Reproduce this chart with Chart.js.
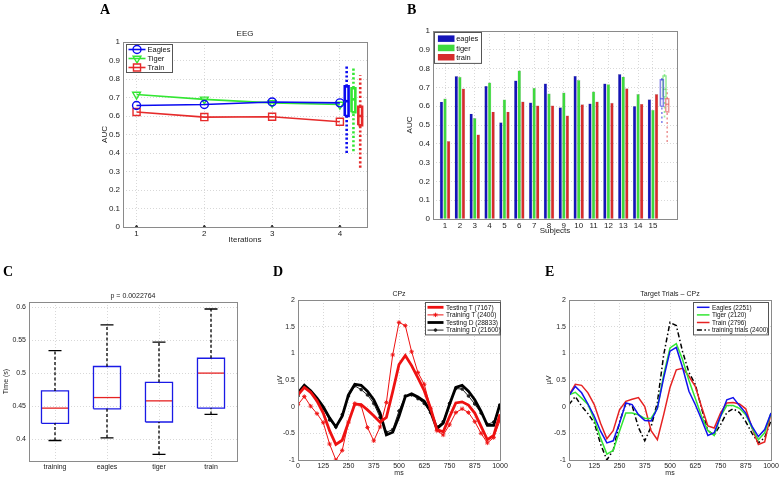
<!DOCTYPE html>
<html>
<head>
<meta charset="utf-8">
<script src="https://cdn.jsdelivr.net/npm/chart.js@4.4.1/dist/chart.umd.min.js"></script>
<style>
  html, body { margin: 0; padding: 0; background: #fff; }
  #page { position: relative; width: 781px; height: 478px; overflow: hidden; }
  #page canvas { position: absolute; left: 0; top: 0; }
  .tag { position: absolute; font-family: "Liberation Serif", "DejaVu Serif", serif; font-weight: bold; font-size: 14px; line-height: 14px; color: #000; }
</style>
</head>
<body>
<div id="page">
  <canvas id="chartA" width="781" height="478"></canvas>
  <canvas id="chartB" width="781" height="478"></canvas>
  <canvas id="chartC" width="781" height="478"></canvas>
  <canvas id="chartD" width="781" height="478"></canvas>
  <canvas id="chartE" width="781" height="478"></canvas>
  <div class="tag" style="left:100px;top:3px">A</div>
  <div class="tag" style="left:407px;top:3px">B</div>
  <div class="tag" style="left:3px;top:265px">C</div>
  <div class="tag" style="left:273px;top:265px">D</div>
  <div class="tag" style="left:545px;top:265px">E</div>
</div>
<script>
// ---- A: AUC per iteration ----
const iterations = [1, 2, 3, 4];
const eegEagles = [0.657, 0.662, 0.676, 0.671];
const eegTiger = [0.716, 0.690, 0.671, 0.662];
const eegTrain = [0.622, 0.594, 0.596, 0.569];
const eegBaseline = [0, 0, 0, 0];
// summary boxes next to A: [low, q1, median, q3, high]
const eegBoxX = [4.1, 4.2, 4.3];
const eegBoxEagles = [0.40, 0.60, 0.68, 0.76, 0.87];
const eegBoxTiger = [0.41, 0.62, 0.69, 0.75, 0.86];
const eegBoxTrain = [0.32, 0.55, 0.60, 0.65, 0.82];
const aucTicks = [0, 0.1, 0.2, 0.3, 0.4, 0.5, 0.6, 0.7, 0.8, 0.9, 1];

// ---- B: AUC per subject ----
const subjects = [1, 2, 3, 4, 5, 6, 7, 8, 9, 10, 11, 12, 13, 14, 15];
const aucEagles = [0.624, 0.760, 0.560, 0.708, 0.514, 0.737, 0.620, 0.721, 0.594, 0.761, 0.615, 0.721, 0.771, 0.601, 0.637];
const aucTiger = [0.641, 0.756, 0.537, 0.726, 0.636, 0.790, 0.698, 0.668, 0.673, 0.739, 0.678, 0.717, 0.757, 0.665, 0.580];
const aucTrain = [0.415, 0.694, 0.450, 0.571, 0.571, 0.625, 0.604, 0.604, 0.551, 0.610, 0.625, 0.618, 0.695, 0.612, 0.665];
const subjBoxX = [15.6, 15.78, 15.96];
const subjBoxEagles = [0.51, 0.60, 0.64, 0.74, 0.76];
const subjBoxTiger = [0.54, 0.65, 0.69, 0.76, 0.79];
const subjBoxTrain = [0.41, 0.57, 0.61, 0.64, 0.69];

// ---- C: response times ----
const rtGroups = ['training', 'eagles', 'tiger', 'train'];
const rtPos = [1, 2, 3, 4];
const rtLow = [0.398, 0.402, 0.377, 0.4375];
const rtQ1 = [0.424, 0.446, 0.426, 0.447];
const rtMedian = [0.447, 0.463, 0.458, 0.500];
const rtQ3 = [0.473, 0.510, 0.486, 0.5225];
const rtHigh = [0.534, 0.573, 0.547, 0.597];
const rtTicks = [0.4, 0.45, 0.5, 0.55, 0.6];

// ---- D / E: ERPs at CPz ----
const ms = [0, 31.25, 62.5, 93.75, 125, 156.25, 187.5, 218.75, 250, 281.25, 312.5, 343.75, 375, 406.25, 437.5, 468.75,
  500, 531.25, 562.5, 593.75, 625, 656.25, 687.5, 718.75, 750, 781.25, 812.5, 843.75, 875, 906.25, 937.5, 968.75, 1000];
const msTicks = [0, 125, 250, 375, 500, 625, 750, 875, 1000];
const uvTicks = [-1, -0.5, 0, 0.5, 1, 1.5, 2];
const testingT = [0.22, 0.36, 0.27, 0.11, -0.12, -0.45, -0.71, -0.63, -0.29, 0.05, 0.04, -0.06, -0.17, -0.29, -0.20, 0.28,
  0.79, 0.96, 0.77, 0.54, 0.30, -0.03, -0.43, -0.47, -0.19, 0.07, 0.09, 0.03, -0.12, -0.37, -0.62, -0.54, -0.14];
const trainingT = [0.04, 0.19, 0.01, -0.13, -0.30, -0.70, -1.00, -0.82, -0.29, 0.06, 0.02, -0.39, -0.64, -0.38, 0.08, 0.97,
  1.58, 1.52, 1.03, 0.64, 0.42, -0.03, -0.45, -0.53, -0.34, -0.11, -0.04, -0.11, -0.28, -0.50, -0.68, -0.58, -0.26];
const testingD = [0.26, 0.40, 0.30, 0.16, 0.00, -0.21, -0.38, -0.18, 0.22, 0.42, 0.40, 0.29, 0.13, -0.12, -0.53, -0.48,
  -0.18, 0.19, 0.24, 0.18, 0.10, -0.09, -0.41, -0.31, 0.04, 0.36, 0.40, 0.29, 0.13, -0.09, -0.35, -0.35, 0.05];
const trainingD = [0.20, 0.37, 0.28, 0.12, -0.04, -0.25, -0.38, -0.15, 0.20, 0.39, 0.32, 0.22, 0.06, -0.20, -0.48, -0.43,
  -0.08, 0.20, 0.22, 0.15, 0.06, -0.11, -0.38, -0.28, 0.06, 0.34, 0.33, 0.20, 0.05, -0.12, -0.33, -0.29, 0.03];
const erpEagles = [0.21, 0.38, 0.26, 0.05, -0.18, -0.46, -0.68, -0.64, -0.31, 0.07, 0.04, -0.15, -0.26, -0.27, -0.03, 0.54,
  1.04, 1.11, 0.73, 0.29, 0.04, -0.24, -0.54, -0.49, -0.18, 0.13, 0.17, 0.02, -0.12, -0.37, -0.56, -0.43, -0.12];
const erpTiger = [0.22, 0.27, 0.16, 0.04, -0.24, -0.59, -0.89, -0.82, -0.46, -0.12, -0.12, -0.15, -0.22, -0.22, -0.03, 0.60,
  1.10, 1.18, 0.88, 0.49, 0.16, -0.18, -0.45, -0.54, -0.18, 0.02, 0.02, -0.03, -0.15, -0.40, -0.62, -0.49, -0.12];
const erpTrain = [0.22, 0.42, 0.40, 0.26, 0.04, -0.31, -0.60, -0.45, -0.06, 0.10, 0.14, 0.17, 0.00, -0.45, -0.62, -0.15,
  0.36, 0.69, 0.72, 0.57, 0.38, 0.00, -0.36, -0.40, -0.12, 0.07, 0.08, 0.05, -0.04, -0.40, -0.71, -0.66, -0.12];

const W = 781, H = 478;
const FONT = '"Liberation Sans", Arial, Helvetica, sans-serif';
Chart.defaults.font.family = FONT;
Chart.defaults.color = '#222';
Chart.defaults.animation = false;
Chart.defaults.responsive = false;
Chart.defaults.events = [];
Chart.defaults.plugins.legend.display = false;
Chart.defaults.plugins.tooltip.enabled = false;

const BLUE = '#0a0af0', GREEN = '#33e633', RED = '#e62a2a';

function pts(xs, ys) {
  return xs.map((x, i) => ({ x: x, y: ys[i] }));
}

// put the plot box at a fixed place on the page
function place(l, t, r, b, yw, xh) {
  return { padding: { left: l - yw, top: t, right: W - r, bottom: H - b - xh } };
}

function axis(o) {
  return {
    type: 'linear', min: o.min, max: o.max, offset: false, bounds: 'data',
    afterFit: s => { if (s.isHorizontal()) s.height = o.size; else s.width = o.size; },
    afterBuildTicks: s => { s.ticks = o.ticks.map(v => ({ value: v })); },
    ticks: {
      autoSkip: false, maxRotation: 0, padding: o.pad ?? 3, color: '#222',
      font: { size: o.fs },
      callback: o.label || (v => String(+v.toFixed(4)))
    },
    grid: { color: 'rgba(0,0,0,0.22)', lineWidth: 0.7, drawTicks: false, offset: false },
    border: { display: false, dash: [1, 2] },
    title: o.title
      ? { display: true, text: o.title, padding: 0, color: '#222', font: { size: o.fs } }
      : { display: false }
  };
}

function boxPlot(x, s, st) {
  const [lo, q1, med, q3, hi] = s;
  const hw = st.half, cw = st.cap;
  const base = { type: 'line', pointRadius: 0, fill: false, tension: 0, spanGaps: false, borderJoinStyle: 'miter' };
  const out = [];
  out.push({ ...base, data: [{ x, y: lo }, { x, y: q1 }, { x, y: null }, { x, y: q3 }, { x, y: hi }],
    borderColor: st.whisker, borderWidth: st.wWidth, borderDash: st.dash });
  if (cw) {
    out.push({ ...base, data: [{ x: x - cw, y: lo }, { x: x + cw, y: lo }, { x, y: null }, { x: x - cw, y: hi }, { x: x + cw, y: hi }],
      borderColor: st.capColor, borderWidth: st.cWidth });
  }
  out.push({ ...base, data: [{ x: x - hw, y: q1 }, { x: x + hw, y: q1 }, { x: x + hw, y: q3 }, { x: x - hw, y: q3 }, { x: x - hw, y: q1 }],
    borderColor: st.box, borderWidth: st.bWidth });
  out.push({ ...base, data: [{ x: x - hw, y: med }, { x: x + hw, y: med }], borderColor: st.median, borderWidth: st.mWidth });
  return out;
}

function drawLegend(chart, lg) {
  const ctx = chart.ctx, a = chart.chartArea;
  const items = chart.data.datasets.filter(d => d.label);
  const h = items.length * lg.rowH + lg.padY * 2;
  const x0 = Math.round(lg.align === 'right' ? a.right - lg.dx - lg.width : a.left + lg.dx) + 0.5;
  const y0 = Math.round(a.top + lg.dy) + 0.5;
  ctx.fillStyle = '#fff';
  ctx.fillRect(x0, y0, lg.width, h);
  ctx.strokeStyle = '#555';
  ctx.lineWidth = 1;
  ctx.setLineDash([]);
  ctx.strokeRect(x0, y0, lg.width, h);
  ctx.font = lg.size + 'px ' + FONT;
  ctx.textBaseline = 'middle';
  ctx.textAlign = 'left';
  items.forEach((d, i) => {
    const cy = y0 + lg.padY + (i + 0.5) * lg.rowH;
    const sx = x0 + lg.sampleX;
    if (d.type === 'bar') {
      ctx.fillStyle = d.backgroundColor;
      ctx.fillRect(sx, cy - lg.swatchH / 2, lg.sampleW, lg.swatchH);
    } else {
      ctx.save();
      ctx.strokeStyle = d.borderColor;
      ctx.lineWidth = d.borderWidth;
      ctx.setLineDash(d.borderDash || []);
      ctx.beginPath();
      ctx.moveTo(sx, cy);
      ctx.lineTo(sx + lg.sampleW, cy);
      ctx.stroke();
      ctx.setLineDash([]);
      if (d.pointRadius > 0) {
        ctx.fillStyle = d.pointBackgroundColor || d.borderColor;
        ctx.lineWidth = d.pointBorderWidth || 1;
        Chart.helpers.drawPoint(ctx, { pointStyle: d.pointStyle, radius: d.pointRadius, rotation: d.pointRotation || 0, borderWidth: d.pointBorderWidth || 1 }, sx + lg.sampleW / 2, cy);
      }
      ctx.restore();
    }
    ctx.fillStyle = '#111';
    ctx.fillText(d.label, x0 + lg.textX, cy + 0.5);
  });
}

const matlabLook = {
  id: 'matlabLook',
  afterDraw(chart, args, o) {
    const ctx = chart.ctx, a = chart.chartArea;
    ctx.save();
    ctx.setLineDash([]);
    ctx.strokeStyle = '#8a8a8a';
    ctx.lineWidth = 1;
    ctx.strokeRect(Math.round(a.left) + 0.5, Math.round(a.top) + 0.5, Math.round(a.right - a.left), Math.round(a.bottom - a.top));
    if (o.title) {
      ctx.fillStyle = '#222';
      ctx.font = o.titleSize + 'px ' + FONT;
      ctx.textAlign = 'center';
      ctx.textBaseline = 'alphabetic';
      ctx.fillText(o.title, (a.left + a.right) / 2, a.top - o.titleGap);
    }
    if (o.legend) drawLegend(chart, o.legend);
    ctx.restore();
  }
};

// ---------- A ----------
const lineA = (label, ys, color, style, radius, rot) => ({
  type: 'line', label, data: pts(iterations, ys), borderColor: color, borderWidth: 1.6,
  pointStyle: style, pointRadius: radius, pointRotation: rot || 0, pointBorderWidth: 1.4,
  pointBorderColor: color, pointBackgroundColor: 'rgba(0,0,0,0)', tension: 0, fill: false
});
const boxStyleA = c => ({ half: 0.028, cap: 0, whisker: c, wWidth: 2.6, dash: [2.2, 2.2], box: c, bWidth: 2.6, median: c, mWidth: 2.6 });
new Chart(document.getElementById('chartA'), {
  type: 'line',
  data: {
    datasets: [
      lineA('Eagles', eegEagles, BLUE, 'circle', 4),
      lineA('Tiger', eegTiger, GREEN, 'triangle', 4.5, 180),
      lineA('Train', eegTrain, RED, 'rect', 5),
      { type: 'line', data: pts(iterations, eegBaseline), showLine: false, pointStyle: 'triangle', pointRadius: 2,
        pointBackgroundColor: '#333', pointBorderColor: '#333', borderColor: '#333' },
      ...boxPlot(eegBoxX[0], eegBoxEagles, boxStyleA(BLUE)),
      ...boxPlot(eegBoxX[1], eegBoxTiger, boxStyleA(GREEN)),
      ...boxPlot(eegBoxX[2], eegBoxTrain, boxStyleA(RED))
    ]
  },
  options: {
    layout: place(123, 42, 367, 227, 23, 18),
    scales: {
      x: axis({ min: 0.8, max: 4.4, ticks: iterations, size: 18, fs: 8, pad: 2, title: 'Iterations' }),
      y: axis({ min: 0, max: 1, ticks: aucTicks, size: 23, fs: 8, pad: 3, title: 'AUC' })
    },
    plugins: {
      matlabLook: {
        title: 'EEG', titleSize: 8, titleGap: 6,
        legend: { align: 'left', dx: 3, dy: 2, width: 46, rowH: 9, padY: 0.5, sampleX: 2, sampleW: 17, textX: 21, size: 7.5, swatchH: 6 }
      }
    }
  },
  plugins: [matlabLook]
});

// ---------- B ----------
const barB = (label, ys, color) => ({
  type: 'bar', label, data: pts(subjects, ys), backgroundColor: color, borderColor: 'rgba(0,0,0,0.35)', borderWidth: 0.4
});
const boxStyleB = c => ({ half: 0.1, cap: 0, whisker: c, wWidth: 1.6, dash: [2, 2.5], box: c, bWidth: 1.6, median: c, mWidth: 1.6 });
new Chart(document.getElementById('chartB'), {
  type: 'bar',
  data: {
    datasets: [
      barB('eagles', aucEagles, '#1414b8'),
      barB('tiger', aucTiger, '#3ed93e'),
      barB('train', aucTrain, '#d62c2c'),
      ...boxPlot(subjBoxX[0], subjBoxEagles, boxStyleB('rgba(40,40,220,0.55)')),
      ...boxPlot(subjBoxX[1], subjBoxTiger, boxStyleB('rgba(60,220,60,0.5)')),
      ...boxPlot(subjBoxX[2], subjBoxTrain, boxStyleB('rgba(220,50,50,0.5)'))
    ]
  },
  options: {
    layout: place(433, 31, 677, 219, 28, 16.5),
    datasets: { bar: { categoryPercentage: 0.72, barPercentage: 0.96 } },
    scales: {
      x: axis({ min: 0.19, max: 16.62, ticks: subjects, size: 16.5, fs: 8, pad: 2, title: 'Subjects' }),
      y: axis({ min: 0, max: 1, ticks: aucTicks, size: 28, fs: 8, pad: 3, title: 'AUC' })
    },
    plugins: {
      matlabLook: {
        legend: { align: 'left', dx: 0.5, dy: 1.3, width: 47, rowH: 9.3, padY: 1.5, sampleX: 3.4, sampleW: 16.6, textX: 21.7, size: 7.5, swatchH: 6.5 }
      }
    }
  },
  plugins: [matlabLook]
});

// ---------- C ----------
const boxStyleC = { half: 0.26, cap: 0.125, whisker: '#000', wWidth: 1.3, dash: [3, 2.2], capColor: '#000', cWidth: 1.3,
  box: '#1a1ae6', bWidth: 1.3, median: '#e62222', mWidth: 1.3 };
const boxesC = [];
rtPos.forEach((x, i) => {
  boxesC.push(...boxPlot(x, [rtLow[i], rtQ1[i], rtMedian[i], rtQ3[i], rtHigh[i]], boxStyleC));
});
new Chart(document.getElementById('chartC'), {
  type: 'line',
  data: { datasets: boxesC },
  options: {
    layout: place(29, 302, 237, 461, 27, 16),
    scales: {
      x: axis({ min: 0.5, max: 4.5, ticks: rtPos, size: 16, fs: 7, pad: 2, label: v => rtGroups[v - 1] }),
      y: axis({ min: 0.367, max: 0.6076, ticks: rtTicks, size: 27, fs: 7, pad: 3, title: 'Time (s)' })
    },
    plugins: { matlabLook: { title: 'p = 0.0022764', titleSize: 7, titleGap: 4.5 } }
  },
  plugins: [matlabLook]
});

// ---------- D ----------
const erp = (label, ys, color, width, extra) => ({
  type: 'line', label, data: pts(ms, ys), borderColor: color, borderWidth: width, pointRadius: 0,
  tension: 0, fill: false, ...extra
});
new Chart(document.getElementById('chartD'), {
  type: 'line',
  data: {
    datasets: [
      erp('Testing T (7167)', testingT, '#ee1111', 2.8),
      erp('Training T (2400)', trainingT, '#ee1111', 1, { pointStyle: 'star', pointRadius: 2.2, pointBorderColor: '#ee1111', pointBorderWidth: 0.9 }),
      erp('Testing D (28833)', testingD, '#000', 2.8),
      erp('Training D (21600)', trainingD, '#222', 1, { pointStyle: 'circle', pointRadius: 1.3, pointBackgroundColor: '#222', pointBorderColor: '#222' })
    ]
  },
  options: {
    layout: place(298, 300, 500, 460, 22, 16.8),
    scales: {
      x: axis({ min: 0, max: 1000, ticks: msTicks, size: 16.8, fs: 7, pad: 2, title: 'ms' }),
      y: axis({ min: -1, max: 2, ticks: uvTicks, size: 22, fs: 7, pad: 3, title: 'µV' })
    },
    plugins: {
      matlabLook: {
        title: 'CPz', titleSize: 7, titleGap: 4.5,
        legend: { align: 'right', dx: 0, dy: 2, width: 75, rowH: 7.6, padY: 1, sampleX: 2, sampleW: 16, textX: 20.5, size: 6.6, swatchH: 5 }
      }
    }
  },
  plugins: [matlabLook]
});

// ---------- E ----------
new Chart(document.getElementById('chartE'), {
  type: 'line',
  data: {
    datasets: [
      erp('Eagles (2251)', erpEagles, '#1111ee', 1.5),
      erp('Tiger (2120)', erpTiger, '#33e633', 1.5),
      erp('Train (2796)', erpTrain, '#e62222', 1.5),
      erp('training trials (2400)', trainingT, '#000', 1.5, { borderDash: [5, 2.5, 1.5, 2.5] })
    ]
  },
  options: {
    layout: place(569, 300, 771, 460, 24.5, 16.8),
    scales: {
      x: axis({ min: 0, max: 1000, ticks: msTicks, size: 16.8, fs: 7, pad: 2, title: 'ms' }),
      y: axis({ min: -1, max: 2, ticks: uvTicks, size: 24.5, fs: 7, pad: 3, title: 'µV' })
    },
    plugins: {
      matlabLook: {
        title: 'Target Trials \u2013 CPz', titleSize: 7, titleGap: 4.5,
        legend: { align: 'right', dx: 3, dy: 2, width: 75, rowH: 7.6, padY: 1, sampleX: 3.4, sampleW: 12.6, textX: 18.4, size: 6.4, swatchH: 5 }
      }
    }
  },
  plugins: [matlabLook]
});
</script>
</body>
</html>
